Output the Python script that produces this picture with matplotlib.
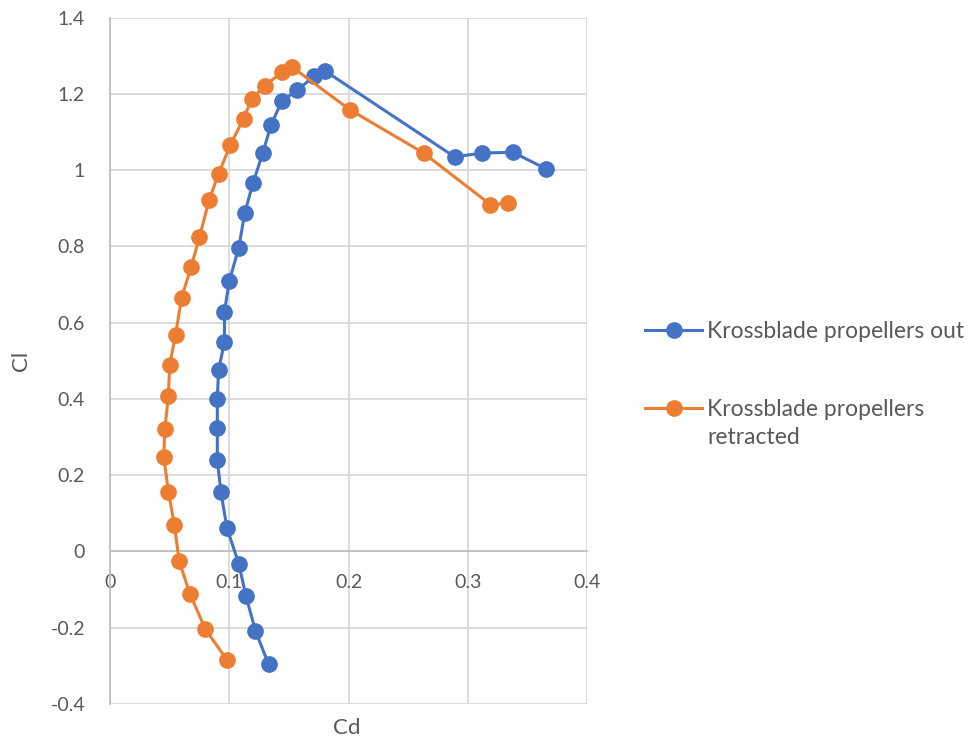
import matplotlib
matplotlib.use("Agg")
import matplotlib.pyplot as plt

plt.rcParams['font.family'] = ['Lato', 'DejaVu Sans']

# Krossblade propellers out
cd_out = [0.133, 0.122, 0.114, 0.108, 0.098, 0.093, 0.090, 0.090, 0.090, 0.091,
          0.096, 0.096, 0.100, 0.108, 0.113, 0.120, 0.128, 0.135, 0.144, 0.157,
          0.171, 0.180, 0.289, 0.312, 0.338, 0.366]
cl_out = [-0.296, -0.208, -0.117, -0.032, 0.062, 0.157, 0.239, 0.323, 0.401, 0.475,
          0.550, 0.629, 0.709, 0.797, 0.888, 0.967, 1.044, 1.118, 1.181, 1.210,
          1.246, 1.261, 1.035, 1.045, 1.047, 1.003]

# Krossblade propellers retracted
cd_ret = [0.098, 0.080, 0.067, 0.058, 0.054, 0.049, 0.045, 0.046, 0.049, 0.050,
          0.055, 0.060, 0.068, 0.075, 0.083, 0.091, 0.101, 0.112, 0.119, 0.130,
          0.144, 0.153, 0.201, 0.263, 0.319, 0.334]
cl_ret = [-0.284, -0.204, -0.111, -0.025, 0.069, 0.157, 0.249, 0.322, 0.408, 0.489,
          0.569, 0.665, 0.746, 0.824, 0.921, 0.990, 1.067, 1.135, 1.188, 1.222,
          1.257, 1.270, 1.159, 1.045, 0.910, 0.913]

labels = ['Krossblade propellers out', 'Krossblade propellers']
label_wrap = 'retracted'   # second line of the orange legend label
colors = ['#4472C4', '#ED7D31']
text_col = '#595959'

fig = plt.figure(figsize=(9.75, 7.42), dpi=100)
ax = fig.add_axes([110/975, 1 - 704/742, 477/975, (704 - 17.7)/742])

ax.plot(cd_out, cl_out, color=colors[0], lw=2.2, marker='o', ms=11, label=labels[0], zorder=3)
ax.plot(cd_ret, cl_ret, color=colors[1], lw=2.2, marker='o', ms=11, label=labels[1], zorder=3)

ax.set_xlim(0, 0.4)
ax.set_ylim(-0.4, 1.4)
ax.set_xticks([0, 0.1, 0.2, 0.3, 0.4])
ax.set_xticklabels(['0', '0.1', '0.2', '0.3', '0.4'])
ax.set_yticks([-0.4, -0.2, 0, 0.2, 0.4, 0.6, 0.8, 1.0, 1.2, 1.4])
ax.set_yticklabels(['-0.4', '-0.2', '0', '0.2', '0.4', '0.6', '0.8', '1', '1.2', '1.4'])

ax.grid(True, color='#D9D9D9', lw=1.3, zorder=0)
ax.set_axisbelow(True)
for s in ['top', 'right']:
    ax.spines[s].set_visible(False)
ax.spines['bottom'].set_position(('data', 0))
ax.spines['bottom'].set_color('#BFBFBF')
ax.spines['left'].set_color('#BFBFBF')
ax.spines['bottom'].set_linewidth(1.3)
ax.spines['left'].set_linewidth(1.3)
ax.tick_params(length=0, labelsize=14, colors=text_col)
ax.tick_params(axis='y', pad=18)
ax.tick_params(axis='x', pad=16)

ax.set_xlabel('Cd', fontsize=16, color=text_col)
ax.xaxis.set_label_coords(0.497, -0.021)
ax.set_ylabel('Cl', fontsize=16, color=text_col)
ax.yaxis.set_label_coords(-0.165, 0.5)

leg = fig.legend(loc='upper left', bbox_to_anchor=(645/975, 1 - 321/742), frameon=False,
                 fontsize=16.5, labelcolor=text_col, labelspacing=2.5, handlelength=2.5,
                 handletextpad=0.2, borderpad=0, borderaxespad=0)
fig.text(707/975, 1 - 437/742, label_wrap, fontsize=16.5, color=text_col, va='center')

fig.savefig('out.png', dpi=100)
